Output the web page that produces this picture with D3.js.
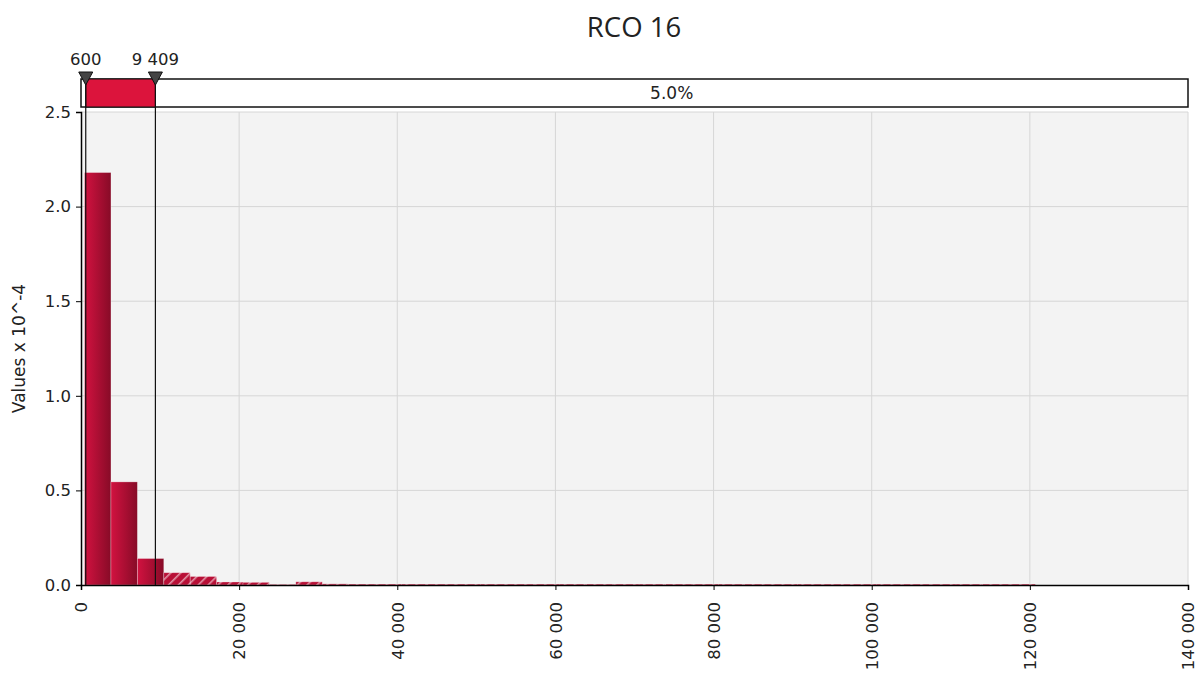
<!DOCTYPE html>
<html>
<head>
<meta charset="utf-8">
<script src="https://cdn.jsdelivr.net/npm/d3@7"></script>
<style>
  html, body { margin: 0; padding: 0; background: #fff; }
  svg { display: block; font-family: "DejaVu Sans", Verdana, sans-serif; }
</style>
</head>
<body>
<svg id="chart" width="1201" height="678"></svg>
<script>
// Histogram of RCO 16 (density values, scaled by 10^4)
const title = "RCO 16";
const yLabel = "Values x 10^-4";
const binStart = 450;
const binWidth = 3340;
const density = [
  2.18, 0.545, 0.14, 0.065, 0.045, 0.016, 0.014, 0.003, 0.017,
  0.006, 0.005, 0.005, 0.005, 0.005, 0.005, 0.005, 0.005, 0.005,
  0.005, 0.005, 0.005, 0.005, 0.005, 0.005, 0.005, 0.005, 0.005,
  0.005, 0.005, 0.005, 0.005, 0.005, 0.005, 0.005, 0.005, 0.005
];
const leftMark = 600;
const rightMark = 9409;
const leftMarkLabel = "600";
const rightMarkLabel = "9 409";
const tailPctLabel = "5.0%";
const xTicks = [0, 20000, 40000, 60000, 80000, 100000, 120000, 140000];
const yTicks = [0.0, 0.5, 1.0, 1.5, 2.0, 2.5];

const svg = d3.select("#chart");
const plot = { left: 81, right: 1188, top: 112, bottom: 585 };

const x = d3.scaleLinear().domain([0, 140000]).range([plot.left, plot.right]);
const y = d3.scaleLinear().domain([0, 2.5]).range([plot.bottom, plot.top]);

const fmtThousands = d3.formatLocale({ decimal: ".", thousands: " ", grouping: [3], currency: ["", ""] }).format(",d");

// gradients and hatch pattern
const defs = svg.append("defs");
const grad = defs.append("linearGradient").attr("id", "barGrad")
  .attr("x1", "0%").attr("x2", "100%").attr("y1", "0%").attr("y2", "0%");
grad.append("stop").attr("offset", "0%").attr("stop-color", "#d21240");
grad.append("stop").attr("offset", "100%").attr("stop-color", "#870b27");

const hatch = defs.append("pattern").attr("id", "hatch")
  .attr("patternUnits", "userSpaceOnUse").attr("width", 7).attr("height", 7)
  .attr("patternTransform", "rotate(45)");
hatch.append("rect").attr("width", 7).attr("height", 7).attr("fill", "#b80f36");
hatch.append("rect").attr("x", 0).attr("width", 1.6).attr("height", 7)
  .attr("fill", "rgba(255,255,255,0.55)");

// plot background
svg.append("rect")
  .attr("x", plot.left).attr("y", plot.top)
  .attr("width", plot.right - plot.left).attr("height", plot.bottom - plot.top)
  .attr("fill", "#f3f3f3");

// grid
svg.append("g").selectAll("line").data(xTicks.slice(1)).join("line")
  .attr("x1", d => x(d)).attr("x2", d => x(d))
  .attr("y1", plot.top).attr("y2", plot.bottom)
  .attr("stroke", "#d6d6d6").attr("stroke-width", 1);
svg.append("g").selectAll("line").data(yTicks.slice(1)).join("line")
  .attr("x1", plot.left).attr("x2", plot.right)
  .attr("y1", d => y(d)).attr("y2", d => y(d))
  .attr("stroke", "#d6d6d6").attr("stroke-width", 1);

// bars
const bins = density.map((v, i) => ({
  x0: binStart + i * binWidth,
  x1: binStart + (i + 1) * binWidth,
  v
}));
svg.append("g").selectAll("rect").data(bins).join("rect")
  .attr("x", d => x(d.x0))
  .attr("y", d => y(d.v))
  .attr("width", d => x(d.x1) - x(d.x0))
  .attr("height", d => y(0) - y(d.v))
  .attr("fill", d => d.x0 >= rightMark ? "url(#hatch)" : "url(#barGrad)")
  .attr("stroke", "rgba(255,255,255,0.35)")
  .attr("stroke-width", 0.8);

// axes
const yAxis = d3.axisLeft(y).tickValues(yTicks).tickFormat(d3.format(".1f")).tickSize(5).tickPadding(5);
const gy = svg.append("g").attr("transform", `translate(${plot.left},0)`).call(yAxis);
gy.select(".domain").attr("stroke", "#000").attr("stroke-width", 1.5);
gy.selectAll(".tick line").attr("stroke", "#000");
gy.selectAll("text").attr("font-size", 16.5).attr("fill", "#222")
  .attr("font-family", "DejaVu Sans, Verdana, sans-serif");

const xAxis = d3.axisBottom(x).tickValues(xTicks).tickFormat(fmtThousands).tickSize(5);
const gx = svg.append("g").attr("transform", `translate(0,${plot.bottom})`).call(xAxis);
gx.select(".domain").attr("stroke", "#000").attr("stroke-width", 1.5);
gx.selectAll(".tick line").attr("stroke", "#000");
gx.selectAll("text")
  .attr("font-size", 16.5).attr("fill", "#222")
  .attr("font-family", "DejaVu Sans, Verdana, sans-serif")
  .attr("text-anchor", "end")
  .attr("transform", "rotate(-90)")
  .attr("x", -17).attr("y", 0).attr("dy", "0.35em");

// y-axis label
svg.append("text")
  .attr("transform", `translate(25,${(plot.top + plot.bottom) / 2}) rotate(-90)`)
  .attr("text-anchor", "middle")
  .attr("font-size", 17).attr("fill", "#222")
  .text(yLabel);

// title
svg.append("text")
  .attr("x", 634).attr("y", 37)
  .attr("text-anchor", "middle")
  .attr("font-size", 27.5).attr("fill", "#222")
  .attr("font-family", "Open Sans, DejaVu Sans, sans-serif")
  .text(title);

// delimiter strip
const strip = { top: 79, bottom: 107 };
svg.append("rect")
  .attr("x", plot.left).attr("y", strip.top)
  .attr("width", plot.right - plot.left).attr("height", strip.bottom - strip.top)
  .attr("fill", "#fff").attr("stroke", "#111").attr("stroke-width", 1.5);
svg.append("rect")
  .attr("x", x(leftMark)).attr("y", strip.top)
  .attr("width", x(rightMark) - x(leftMark)).attr("height", strip.bottom - strip.top)
  .attr("fill", "#dc143c").attr("stroke", "#111").attr("stroke-width", 1);
svg.append("text")
  .attr("x", (x(rightMark) + plot.right) / 2).attr("y", (strip.top + strip.bottom) / 2)
  .attr("dy", "0.36em").attr("text-anchor", "middle")
  .attr("font-size", 17).attr("fill", "#222")
  .text(tailPctLabel);

// delimiter lines, markers and labels
const marks = [
  { v: leftMark, label: leftMarkLabel },
  { v: rightMark, label: rightMarkLabel }
];
svg.append("g").selectAll("line").data(marks).join("line")
  .attr("x1", d => x(d.v)).attr("x2", d => x(d.v))
  .attr("y1", strip.top).attr("y2", plot.bottom)
  .attr("stroke", "#111").attr("stroke-width", 1.2);
svg.append("g").selectAll("path").data(marks).join("path")
  .attr("d", d => `M${x(d.v) - 7},72 L${x(d.v) + 7},72 L${x(d.v)},85 Z`)
  .attr("fill", "#444").attr("stroke", "#111").attr("stroke-width", 1);
svg.append("g").selectAll("text").data(marks).join("text")
  .attr("x", d => x(d.v)).attr("y", 65)
  .attr("text-anchor", "middle")
  .attr("font-size", 16.5).attr("fill", "#222")
  .text(d => d.label);
</script>
</body>
</html>
